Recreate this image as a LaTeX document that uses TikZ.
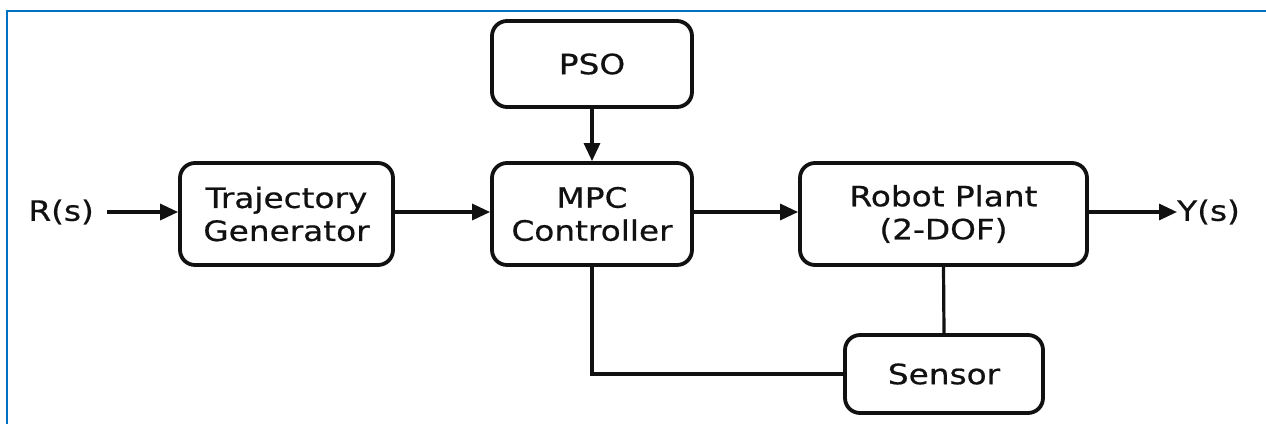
\documentclass[tikz,border=0pt]{standalone}
\usepackage{fontspec}
\setmainfont[FakeStretch=1.17,FakeBold=0.6]{DejaVu Sans}
\usetikzlibrary{arrows.meta}
\definecolor{frameblue}{HTML}{0070C0}
\definecolor{ink}{HTML}{111111}
\begin{document}
\begin{tikzpicture}[x=1pt,y=-1pt,
  blockbox/.style={draw=ink, line width=3.8pt, rounded corners=15pt, align=center,
    inner sep=0pt, font=\fontsize{28}{33}\selectfont, text=ink},
  signal/.style={font=\fontsize{28}{33}\selectfont, text=ink, inner sep=0pt},
  flow/.style={draw=ink, line width=3.2pt, -{Triangle[length=18pt,width=16pt]}},
  wire/.style={draw=ink, line width=3.2pt}]
  % canvas and frame
  \useasboundingbox (0,0) rectangle (1266,424);
  \fill[white] (0,0) rectangle (1266,424);
  \draw[frameblue, line width=2.2pt] (7,424) -- (7,11) -- (1266,11);

  % blocks
  \node[blockbox, minimum width=213pt, minimum height=102pt] (traj) at (286.5,214) {Trajectory\\Generator};
  \node[blockbox, minimum width=200pt, minimum height=86pt] (pso) at (592,64) {PSO};
  \node[blockbox, minimum width=200pt, minimum height=102pt] (mpc) at (592,214) {MPC\\Controller};
  \node[blockbox, minimum width=287pt, minimum height=102pt] (plant) at (943.5,214) {Robot Plant\\(2-DOF)};
  \node[blockbox, minimum width=198pt, minimum height=78pt] (sensor) at (944,374) {Sensor};

  % input and output signals
  \node[signal, anchor=east] (r) at (94,212) {R(s)};
  \node[signal, anchor=west] (y) at (1177,212) {Y(s)};

  % connectors
  \draw[flow] (r.east) ++(13pt,0) coordinate (rs) -- (traj.west |- rs);
  \draw[flow] (traj.east |- r.east) -- (mpc.west |- r.east);
  \draw[flow] (pso.south) -- (mpc.north);
  \draw[flow] (mpc.east |- r.east) -- (plant.west |- r.east);
  \draw[flow] (plant.east |- r.east) -- (y.west);
  \draw[wire] (plant.south) -- (sensor.north);
  \draw[wire] (mpc.south) |- (sensor.west);
\end{tikzpicture}
\end{document}
